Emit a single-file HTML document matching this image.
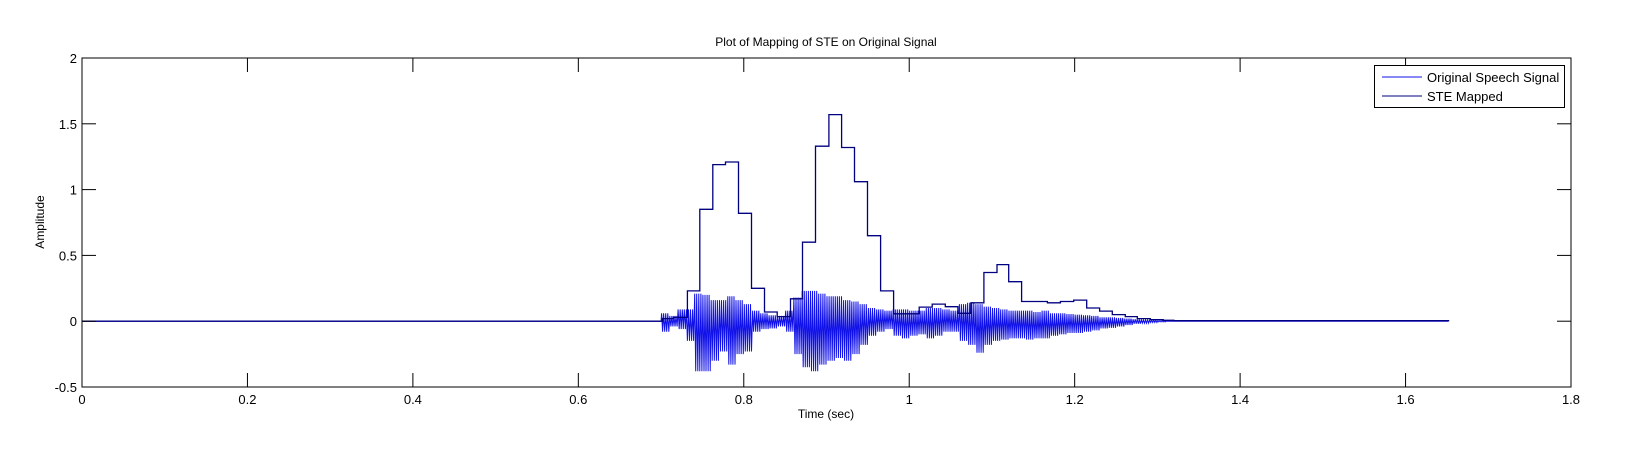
<!DOCTYPE html>
<html><head><meta charset="utf-8"><style>
body{margin:0;background:#fff;width:1652px;height:453px;overflow:hidden}
svg{display:block;font-family:"Liberation Sans",Arial,sans-serif}
</style></head><body>
<svg id="chart" width="1652" height="453">
<rect width="1652" height="453" fill="#fff"/>
</svg>
<script>
const xTicks=[0,0.2,0.4,0.6,0.8,1,1.2,1.4,1.6,1.8];
const xTickLabels=["0","0.2","0.4","0.6","0.8","1","1.2","1.4","1.6","1.8"];
const yTicks=[-0.5,0,0.5,1,1.5,2];
const yTickLabels=["-0.5","0","0.5","1","1.5","2"];
const steTimes=[0.7017,0.715,0.7319,0.7468,0.7626,0.7779,0.7936,0.8093,0.8251,0.8404,0.8565,0.871,0.8867,0.9029,0.9182,0.9339,0.9496,0.9654,0.9811,0.9964,1.0121,1.0278,1.0436,1.0589,1.0746,1.0903,1.1061,1.1202,1.1359,1.1517,1.167,1.1827,1.1988,1.2145,1.2302,1.2455,1.2612,1.2757,1.2914,1.307,1.32,1.652];
const steValues=[0.02,0.03,0.23,0.85,1.19,1.21,0.82,0.25,0.07,0.035,0.17,0.6,1.33,1.57,1.32,1.06,0.65,0.23,0.056,0.056,0.107,0.13,0.11,0.06,0.14,0.37,0.43,0.3,0.15,0.15,0.14,0.15,0.16,0.1,0.077,0.05,0.035,0.02,0.012,0.007,0.004,0.004];
const sigBinStart=0.70, sigBinWidth=0.01, sigEnd=1.652;
const sigMax=[0.06,0.04,0.09,0.09,0.21,0.2,0.16,0.16,0.19,0.16,0.13,0.08,0.06,0.045,0.04,0.08,0.18,0.23,0.23,0.21,0.19,0.19,0.16,0.15,0.13,0.1,0.09,0.08,0.09,0.09,0.08,0.08,0.1,0.1,0.09,0.08,0.13,0.14,0.13,0.11,0.1,0.09,0.08,0.08,0.08,0.07,0.08,0.06,0.06,0.055,0.05,0.045,0.04,0.03,0.03,0.025,0.02,0.015,0.01,0.008,0.005];
const sigMin=[-0.08,-0.04,-0.06,-0.15,-0.38,-0.38,-0.3,-0.23,-0.33,-0.25,-0.23,-0.08,-0.06,-0.055,-0.04,-0.08,-0.25,-0.35,-0.38,-0.33,-0.3,-0.28,-0.3,-0.25,-0.18,-0.11,-0.08,-0.06,-0.11,-0.13,-0.11,-0.1,-0.13,-0.11,-0.08,-0.08,-0.15,-0.18,-0.24,-0.18,-0.15,-0.14,-0.13,-0.13,-0.14,-0.13,-0.13,-0.11,-0.1,-0.09,-0.09,-0.08,-0.07,-0.055,-0.05,-0.04,-0.03,-0.02,-0.015,-0.01,-0.005];

const L=82,R=1571,T=58,B=387,X0=0,X1=1.8,Y0=-0.5,Y1=2;
const sx=v=>L+(v-X0)/(X1-X0)*(R-L);
const sy=v=>B-(v-Y0)/(Y1-Y0)*(B-T);
const NS="http://www.w3.org/2000/svg";
const svg=document.getElementById('chart');
function mk(tag,attrs,parent){const e=document.createElementNS(NS,tag);for(const k in attrs)e.setAttribute(k,attrs[k]);(parent||svg).appendChild(e);return e;}

// signal
let pts=[[sx(0),sy(0)],[sx(sigBinStart),sy(0)]];
for(let i=0;i<sigMax.length;i++){
  const t0=sigBinStart+i*sigBinWidth;
  for(let k=0;k<4;k++){
    pts.push([sx(t0+(k+0.25)*sigBinWidth/4),sy(sigMax[i])]);
    pts.push([sx(t0+(k+0.75)*sigBinWidth/4),sy(sigMin[i])]);
  }
}
const sigLast=sigBinStart+sigMax.length*sigBinWidth;
pts.push([sx(sigLast),sy(0)],[sx(sigEnd),sy(0)]);
const sig=mk('polyline',{points:pts.map(p=>p[0].toFixed(1)+','+p[1].toFixed(1)).join(' '),fill:'none',stroke:'#1010e8','stroke-width':1});



// STE steps
let sp=[[sx(0),sy(0)],[sx(steTimes[0]),sy(0)]];
for(let i=0;i<steValues.length;i++){
  const a=steTimes[i], b=i+1<steTimes.length?steTimes[i+1]:sigEnd;
  sp.push([sx(a),sy(steValues[i])],[sx(b),sy(steValues[i])]);
}
sp.push([sx(sigEnd),sy(0)]);
const ste=mk('polyline',{points:sp.map(p=>p[0].toFixed(1)+','+p[1].toFixed(1)).join(' '),fill:'none',stroke:'#000080','stroke-width':1.3});



// axes box
const box=mk('rect',{x:L,y:T,width:R-L,height:B-T,fill:'none',stroke:'#000','stroke-width':1});


xTicks.forEach((v,i)=>{
  const x=sx(v);
  mk('line',{x1:x,y1:B,x2:x,y2:B-14,stroke:'#000'});
  mk('line',{x1:x,y1:T,x2:x,y2:T+14,stroke:'#000'});
  const t=mk('text',{x:x,y:B+17,'font-size':13,'text-anchor':'middle',fill:'#000'});
  t.textContent=xTickLabels[i];
  
  
});
yTicks.forEach((v,i)=>{
  const y=sy(v);
  mk('line',{x1:L,y1:y,x2:L+14,y2:y,stroke:'#000'});
  mk('line',{x1:R,y1:y,x2:R-14,y2:y,stroke:'#000'});
  const t=mk('text',{x:L-5,y:y+5,'font-size':13,'text-anchor':'end',fill:'#000'});
  t.textContent=yTickLabels[i];
  
  
});
</script>
<svg width="0" height="0"></svg>
<script>
const s2=document.getElementById('chart');
s2.insertAdjacentHTML('beforeend',
'<text x="826" y="46" font-size="12" text-anchor="middle">Plot of Mapping of STE on Original Signal</text>'+
'<text x="826" y="418" font-size="12" text-anchor="middle">Time (sec)</text>'+
'<text x="0" y="0" font-size="12" text-anchor="middle" transform="translate(44,222) rotate(-90)">Amplitude</text>'+
'<g><rect x="1374.5" y="65.5" width="190" height="42" fill="#fff" stroke="#000"/>'+
'<line x1="1382" y1="77" x2="1422" y2="77" stroke="#1010e8"/><text x="1427" y="82" font-size="13">Original Speech Signal</text>'+
'<line x1="1382" y1="96" x2="1422" y2="96" stroke="#000080"/><text x="1427" y="101" font-size="13">STE Mapped</text></g>');
</script>
</body></html>
